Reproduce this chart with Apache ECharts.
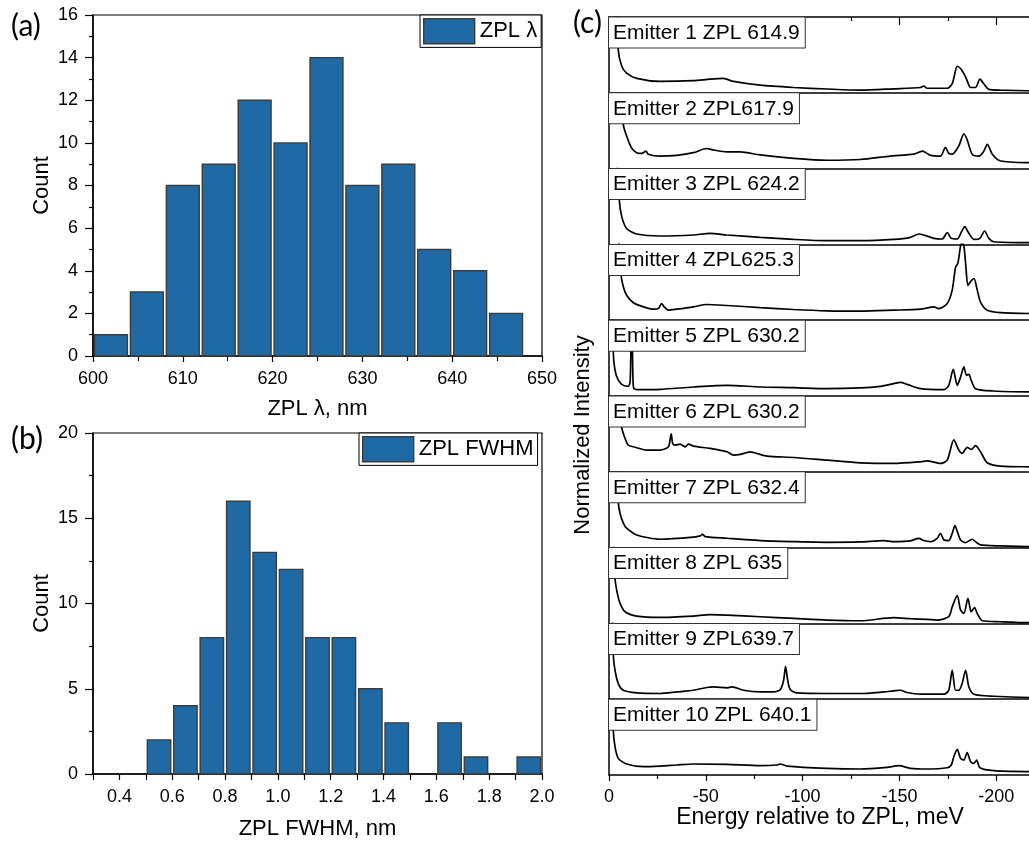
<!DOCTYPE html>
<html>
<head>
<meta charset="utf-8">
<script src="https://cdn.jsdelivr.net/npm/echarts@6/dist/echarts.min.js"></script>
<style>
html,body{margin:0;padding:0;background:#fff;}
#chart{width:1029px;height:842px;}
</style>
</head>
<body>
<div id="chart"></div>
<script>
// ---------- Panel (a): ZPL wavelength histogram ----------
const zplEdges = [600,604,608,612,616,620,624,628,632,636,640,644,648];
const zplCounts = [1,3,8,9,12,10,14,8,9,5,4,2];
const zplTicks = [600,610,620,630,640,650];

// ---------- Panel (b): ZPL FWHM histogram ----------
const fwhmEdges = [0.5,0.6,0.7,0.8,0.9,1.0,1.1,1.2,1.3,1.4,1.5,1.6,1.7,1.8,1.9,2.0];
const fwhmCounts = [2,4,8,16,13,12,8,8,5,3,0,3,1,0,1];

// ---------- Panel (c): spectra (energy meV, normalized intensity per panel) ----------
const emitterNames = ['Emitter 1 ZPL 614.9','Emitter 2 ZPL617.9','Emitter 3 ZPL 624.2','Emitter 4 ZPL625.3','Emitter 5 ZPL 630.2','Emitter 6 ZPL 630.2','Emitter 7 ZPL 632.4','Emitter 8 ZPL 635','Emitter 9 ZPL639.7','Emitter 10 ZPL 640.1'];
const energyTicks = [0,-50,-100,-150,-200];

const spec1 = [[0,3],[-4.8,0.56],[-6.6,0.35],[-9.1,0.26],[-14.3,0.19],[-26.4,0.15],[-43.6,0.16],[-52.2,0.18],[-59.1,0.19],[-64.3,0.15],[-78.1,0.10],[-95.4,0.07],[-112.6,0.05],[-129.8,0.035],[-147.1,0.053],[-160.9,0.07],[-162.6,0.09],[-164.3,0.06],[-174.7,0.06],[-177.3,0.12],[-179.9,0.35],[-181.6,0.32],[-184.2,0.21],[-186.8,0.07],[-189.3,0.07],[-191.6,0.18],[-193.6,0.12],[-196.2,0.045],[-202.3,0.035],[-217.3,0.027],[-240,0.025]];
const spec2 = [[0,3],[-7.4,0.58],[-9.1,0.43],[-11.7,0.27],[-14.3,0.21],[-16.9,0.2],[-19.1,0.23],[-20.3,0.19],[-26.4,0.165],[-35.0,0.175],[-43.6,0.21],[-50.5,0.265],[-53.1,0.25],[-60.9,0.22],[-67.8,0.22],[-78.1,0.18],[-95.4,0.135],[-112.6,0.11],[-129.8,0.12],[-145.4,0.165],[-157.4,0.19],[-161.8,0.23],[-166.1,0.175],[-171.2,0.165],[-173.8,0.28],[-175.5,0.2],[-177.3,0.19],[-180.7,0.3],[-183.3,0.46],[-185.0,0.38],[-187.6,0.19],[-191.1,0.165],[-193.6,0.23],[-195.4,0.32],[-198.0,0.19],[-202.3,0.1],[-217.3,0.078],[-240,0.075]];
const spec3 = [[0,3],[-5.3,0.59],[-6.55,0.37],[-9.1,0.21],[-14.3,0.137],[-26.4,0.111],[-43.6,0.124],[-52.2,0.146],[-60.9,0.124],[-78.1,0.093],[-95.4,0.066],[-112.6,0.049],[-129.8,0.049],[-147.1,0.066],[-155.7,0.093],[-160.0,0.137],[-162.6,0.124],[-167.8,0.08],[-172.1,0.071],[-174.7,0.155],[-176.8,0.08],[-179.9,0.071],[-182.1,0.168],[-183.8,0.235],[-185.4,0.168],[-188.5,0.066],[-191.6,0.08],[-194.0,0.177],[-196.2,0.08],[-198.8,0.035],[-217.3,0.022],[-240,0.02]];
const spec4 = [[0,3],[-6.2,0.6],[-7.4,0.44],[-9.1,0.33],[-12.6,0.23],[-17.8,0.176],[-22.9,0.145],[-25.5,0.154],[-27.2,0.22],[-28.5,0.176],[-30.7,0.132],[-35.0,0.145],[-43.6,0.176],[-50.5,0.207],[-60.9,0.194],[-78.1,0.167],[-95.4,0.141],[-112.6,0.123],[-129.8,0.119],[-147.1,0.132],[-160.9,0.145],[-167.8,0.176],[-170.4,0.154],[-174.7,0.22],[-177.3,0.4],[-179.0,0.7],[-180.2,0.75],[-181.6,0.98],[-182.4,1.02],[-183.3,0.98],[-184.2,0.75],[-185.4,0.46],[-186.8,0.51],[-188.5,0.55],[-190.2,0.4],[-191.9,0.24],[-195.4,0.132],[-202.3,0.1],[-217.3,0.088],[-240,0.085]];
const spec5 = [[0,3],[-2.2,0.58],[-3.1,0.34],[-4.8,0.21],[-7.4,0.14],[-10.0,0.128],[-10.9,0.185],[-11.4,0.65],[-11.9,0.78],[-12.4,0.21],[-12.9,0.097],[-16.0,0.084],[-26.4,0.088],[-43.6,0.119],[-60.9,0.141],[-78.1,0.119],[-95.4,0.11],[-112.6,0.097],[-129.8,0.106],[-140.2,0.128],[-147.1,0.163],[-150.5,0.181],[-154.0,0.154],[-160.9,0.097],[-173.0,0.084],[-175.5,0.141],[-177.8,0.35],[-179.9,0.141],[-181.6,0.25],[-183.3,0.383],[-184.7,0.273],[-185.9,0.286],[-187.1,0.207],[-189.3,0.097],[-198.8,0.066],[-217.3,0.053],[-240,0.05]];
const spec6 = [[0,3],[-6.55,0.59],[-8.3,0.44],[-10.0,0.35],[-12.6,0.33],[-19.5,0.286],[-26.4,0.286],[-30.7,0.33],[-32.1,0.5],[-32.9,0.374],[-34.1,0.352],[-36.7,0.366],[-39.3,0.33],[-41.0,0.366],[-43.6,0.339],[-52.2,0.308],[-60.9,0.264],[-64.3,0.22],[-67.8,0.229],[-72.9,0.264],[-76.4,0.242],[-81.6,0.207],[-95.4,0.189],[-112.6,0.154],[-129.8,0.119],[-147.1,0.11],[-160.9,0.132],[-164.3,0.145],[-171.2,0.11],[-174.7,0.154],[-178.1,0.42],[-180.7,0.286],[-182.4,0.242],[-185.0,0.322],[-187.1,0.295],[-189.3,0.344],[-191.9,0.264],[-195.4,0.119],[-202.3,0.075],[-217.3,0.066],[-240,0.064]];
const spec7 = [[0,3],[-4.8,0.6],[-5.7,0.454],[-7.4,0.322],[-9.1,0.256],[-14.3,0.167],[-26.4,0.11],[-43.6,0.137],[-47.1,0.154],[-48.3,0.176],[-49.7,0.145],[-60.9,0.123],[-78.1,0.093],[-95.4,0.079],[-112.6,0.07],[-129.8,0.075],[-141.9,0.093],[-147.1,0.079],[-155.7,0.088],[-160.0,0.123],[-162.6,0.093],[-166.1,0.079],[-169.5,0.123],[-171.2,0.189],[-173.0,0.101],[-175.5,0.093],[-177.3,0.189],[-178.7,0.291],[-180.2,0.189],[-181.6,0.101],[-184.2,0.066],[-187.6,0.11],[-189.3,0.079],[-191.9,0.035],[-202.3,0.022],[-217.3,0.013],[-240,0.012]];
const spec8 = [[0,3],[-3.1,0.6],[-4.3,0.396],[-5.7,0.264],[-8.3,0.154],[-14.3,0.097],[-26.4,0.079],[-43.6,0.097],[-52.2,0.115],[-60.9,0.11],[-78.1,0.088],[-95.4,0.066],[-112.6,0.044],[-129.8,0.035],[-147.1,0.075],[-155.7,0.062],[-164.3,0.053],[-169.5,0.044],[-175.5,0.088],[-177.3,0.22],[-179.9,0.366],[-181.6,0.176],[-183.3,0.132],[-185.4,0.33],[-187.1,0.154],[-188.8,0.207],[-190.2,0.132],[-192.8,0.035],[-202.3,0.022],[-217.3,0.009],[-240,0.008]];
const spec9 = [[0,3],[-2.2,0.592],[-3.1,0.382],[-4.8,0.206],[-7.4,0.118],[-14.3,0.083],[-26.4,0.075],[-35.0,0.096],[-43.6,0.118],[-50.5,0.154],[-54.0,0.162],[-60.9,0.149],[-63.5,0.162],[-69.5,0.118],[-78.1,0.096],[-85.0,0.096],[-88.5,0.127],[-90.2,0.25],[-91.2,0.434],[-92.3,0.25],[-93.6,0.127],[-97.1,0.083],[-112.6,0.075],[-129.8,0.075],[-141.9,0.096],[-147.1,0.11],[-150.5,0.118],[-154.0,0.088],[-160.9,0.066],[-173.0,0.066],[-175.5,0.118],[-177.3,0.382],[-179.0,0.118],[-180.7,0.118],[-182.4,0.206],[-184.2,0.382],[-185.9,0.162],[-188.5,0.066],[-198.8,0.039],[-217.3,0.022],[-240,0.02]];
const spec10 = [[0,3],[-2.2,0.6],[-3.1,0.373],[-4.8,0.219],[-9.1,0.145],[-17.8,0.11],[-26.4,0.118],[-35.0,0.132],[-43.6,0.145],[-60.9,0.14],[-78.1,0.123],[-86.7,0.132],[-88.5,0.145],[-91.9,0.118],[-112.6,0.088],[-129.8,0.079],[-143.6,0.101],[-149.7,0.123],[-155.7,0.088],[-164.3,0.079],[-174.7,0.096],[-176.8,0.132],[-178.1,0.241],[-179.9,0.338],[-181.6,0.219],[-183.3,0.197],[-185.0,0.294],[-186.8,0.175],[-188.5,0.154],[-189.9,0.197],[-191.6,0.096],[-198.8,0.057],[-217.3,0.044],[-240,0.042]];
const spectra = [spec1,spec2,spec3,spec4,spec5,spec6,spec7,spec8,spec9,spec10];

// ---------- styling ----------
const FONT = 'Liberation Sans';
const barFill = '#1f6aa5';
const barEdge = '#3c3c3c';

function histRows(edges, counts){
  const rows = [];
  for (let i = 0; i < counts.length; i++) rows.push([edges[i], edges[i+1], counts[i]]);
  return rows;
}
function renderBar(params, api){
  const c = api.value(2);
  if (!c) return null;
  const p0 = api.coord([api.value(0), c]);
  const p1 = api.coord([api.value(1), 0]);
  return {
    type: 'rect',
    shape: {x: p0[0] + 1.5, y: p0[1], width: p1[0] - p0[0] - 3, height: p1[1] - p0[1]},
    style: {fill: barFill, stroke: barEdge, lineWidth: 1.4}
  };
}

const blackLine = {show: true, onZero: false, lineStyle: {color: '#000', width: 1.5}};
const tickStyle = {color: '#000', width: 1.2};

const grids = [
  {left: 93, top: 15, width: 449, height: 341, show: true, borderColor: '#000', borderWidth: 1.2, backgroundColor: 'transparent', outerBoundsMode: 'none'},
  {left: 93, top: 433, width: 449, height: 341, show: true, borderColor: '#000', borderWidth: 1.2, backgroundColor: 'transparent', outerBoundsMode: 'none'}
];
const xAxes = [
  {gridIndex: 0, type: 'value', min: 600, max: 650, interval: 10,
   axisLine: blackLine, axisTick: {show: true, length: 6, lineStyle: tickStyle},
   minorTick: {show: true, splitNumber: 2, length: 5, lineStyle: tickStyle},
   axisLabel: {fontSize: 18, color: '#000', margin: 14, fontFamily: FONT},
   splitLine: {show: false}, minorSplitLine: {show: false},
   name: 'ZPL λ, nm', nameLocation: 'middle', nameGap: 42,
   nameTextStyle: {fontSize: 22, color: '#000', fontFamily: FONT}},
  {gridIndex: 1, type: 'value', min: 0.3, max: 2.0, interval: 0.1,
   axisLine: blackLine, axisTick: {show: true, length: 6, lineStyle: tickStyle},
   axisLabel: {fontSize: 18, color: '#000', margin: 14, fontFamily: FONT,
     formatter: v => (Math.round(v * 10) % 2 === 0) ? v.toFixed(1) : ''},
   splitLine: {show: false},
   name: 'ZPL FWHM, nm', nameLocation: 'middle', nameGap: 44,
   nameTextStyle: {fontSize: 22, color: '#000', fontFamily: FONT}}
];
const yAxes = [
  {gridIndex: 0, type: 'value', min: 0, max: 16, interval: 2,
   axisLine: blackLine, axisTick: {show: true, length: 8, lineStyle: tickStyle},
   minorTick: {show: true, splitNumber: 2, length: 4, lineStyle: tickStyle},
   axisLabel: {fontSize: 18, color: '#000', margin: 15, fontFamily: FONT},
   splitLine: {show: false}, minorSplitLine: {show: false},
   name: 'Count', nameLocation: 'middle', nameGap: 40,
   nameTextStyle: {fontSize: 22, color: '#000', fontFamily: FONT}},
  {gridIndex: 1, type: 'value', min: 0, max: 20, interval: 5,
   axisLine: blackLine, axisTick: {show: true, length: 8, lineStyle: tickStyle},
   minorTick: {show: true, splitNumber: 2, length: 4, lineStyle: tickStyle},
   axisLabel: {fontSize: 18, color: '#000', margin: 15, fontFamily: FONT},
   splitLine: {show: false}, minorSplitLine: {show: false},
   name: 'Count', nameLocation: 'middle', nameGap: 40,
   nameTextStyle: {fontSize: 22, color: '#000', fontFamily: FONT}}
];
const series = [
  {type: 'custom', name: 'ZPL λ', xAxisIndex: 0, yAxisIndex: 0, data: histRows(zplEdges, zplCounts),
   renderItem: renderBar, encode: {x: [0, 1], y: 2}, itemStyle: {color: barFill}, silent: true},
  {type: 'custom', name: 'ZPL FWHM', xAxisIndex: 1, yAxisIndex: 1, data: histRows(fwhmEdges, fwhmCounts),
   renderItem: renderBar, encode: {x: [0, 1], y: 2}, itemStyle: {color: barFill}, silent: true}
];
const graphics = [
  {type: 'text', x: 11, y: 11, z: 100, style: {text: '(a)', font: '30px Lato', fill: '#000', align: 'left', verticalAlign: 'top'}},
  {type: 'text', x: 11, y: 424, z: 100, style: {text: '(b)', font: '30px Lato', fill: '#000', align: 'left', verticalAlign: 'top'}},
  {type: 'text', x: 573, y: 8, z: 100, style: {text: '(c)', font: '30px Lato', fill: '#000', align: 'left', verticalAlign: 'top'}},
  {type: 'text', x: 583, y: 435, rotation: Math.PI / 2, z: 100,
   style: {text: 'Normalized Intensity', font: '22px "Liberation Sans"', fill: '#000', align: 'center', verticalAlign: 'middle'}},
  {type: 'text', x: 820, y: 818, z: 100,
   style: {text: 'Energy relative to ZPL, meV', font: '23px "Liberation Sans"', fill: '#000', align: 'center', verticalAlign: 'middle'}}
];

const panelTop = 17, panelH = 75.8;
for (let i = 0; i < 10; i++) {
  const gi = i + 2;
  const last = i === 9;
  grids.push({left: 609, right: -64, top: panelTop + i * panelH, height: panelH, outerBoundsMode: 'none'});
  xAxes.push({gridIndex: gi, type: 'value', inverse: true, min: -250, max: 0, interval: 50,
    axisLine: blackLine,
    axisTick: {show: last, length: 6, lineStyle: tickStyle},
    minorTick: {show: last, splitNumber: 2, length: 4, lineStyle: tickStyle},
    axisLabel: {show: last, fontSize: 18, color: '#000', margin: 13, fontFamily: FONT},
    splitLine: {show: false}, minorSplitLine: {show: false}});
  yAxes.push({gridIndex: gi, type: 'value', min: 0, max: 1,
    axisLine: blackLine, axisTick: {show: false}, axisLabel: {show: false}, splitLine: {show: false}});
  series.push({type: 'line', name: emitterNames[i], xAxisIndex: gi, yAxisIndex: gi, data: spectra[i],
    symbol: 'none', showSymbol: false, clip: true, silent: true, z: 3, smooth: 0.25,
    lineStyle: {color: '#000', width: 1.7}});
  graphics.push({type: 'text', x: 609, y: panelTop + i * panelH + 0.5, z: 100,
    style: {text: emitterNames[i], font: '21px "Liberation Sans"', fill: '#000',
      align: 'left', verticalAlign: 'top', lineHeight: 25,
      backgroundColor: '#fff', borderColor: '#333', borderWidth: 1, padding: [3, 5, 2, 4]}});
}
// top axis of panel (c) with inward ticks
xAxes.push({gridIndex: 2, type: 'value', position: 'top', inverse: true, min: -250, max: 0, interval: 50,
  axisLine: blackLine,
  axisTick: {show: true, inside: true, length: 8, lineStyle: tickStyle},
  minorTick: {show: true, splitNumber: 2, length: 4, lineStyle: tickStyle},
  axisLabel: {show: false}, splitLine: {show: false}, minorSplitLine: {show: false}});

const legendBase = {orient: 'horizontal', padding: [3, 4, 3, 3], itemWidth: 51, itemHeight: 25,
  borderColor: '#000', borderWidth: 1, backgroundColor: '#fff', selectedMode: false,
  textStyle: {fontSize: 22, color: '#000', fontFamily: FONT}};
const legends = [
  Object.assign({}, legendBase, {left: 420, top: 15,
    data: [{name: 'ZPL λ', icon: 'rect', itemStyle: {color: barFill, borderColor: barEdge, borderWidth: 1.4}}]}),
  Object.assign({}, legendBase, {left: 359, top: 433,
    data: [{name: 'ZPL FWHM', icon: 'rect', itemStyle: {color: barFill, borderColor: barEdge, borderWidth: 1.4}}]})
];

const chart = echarts.init(document.getElementById('chart'), null, {renderer: 'canvas'});
chart.setOption({
  animation: false,
  backgroundColor: '#fff',
  textStyle: {fontFamily: FONT, color: '#000'},
  grid: grids,
  xAxis: xAxes,
  yAxis: yAxes,
  legend: legends,
  series: series,
  graphic: graphics
});
</script>
</body>
</html>
